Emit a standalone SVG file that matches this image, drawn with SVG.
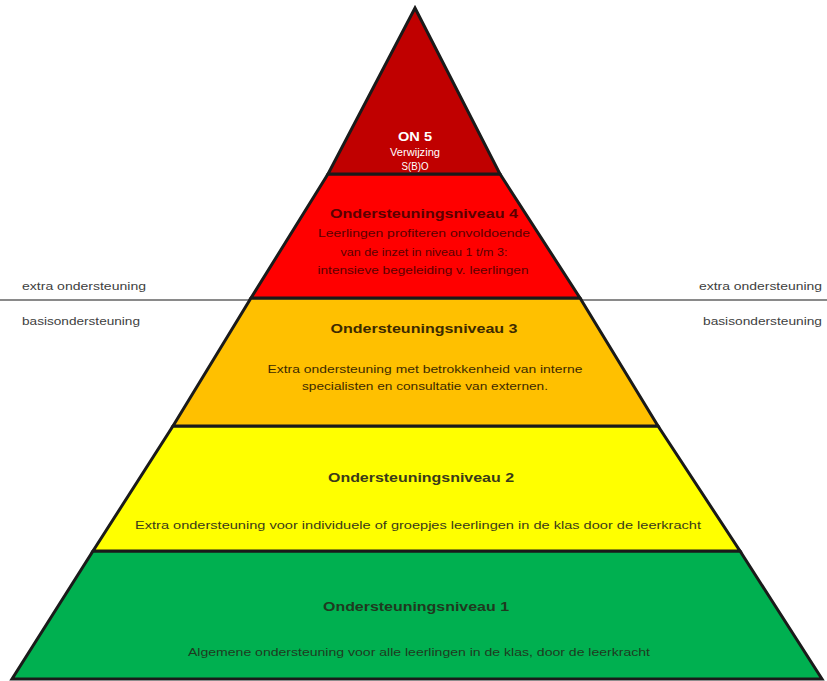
<svg xmlns="http://www.w3.org/2000/svg" width="827" height="681" viewBox="0 0 827 681">
<style>
.band{stroke:#1a1a1a;stroke-width:3;stroke-linejoin:miter}
.t{font-family:"Liberation Sans",Arial,sans-serif;text-anchor:middle}
.h{font-size:12.5px;font-weight:bold}
.b{font-size:10.5px}
.side{font-family:"Liberation Sans",Arial,sans-serif;font-size:10.5px;fill:#404040}
.sep{stroke:#8a8a8a;stroke-width:2}
</style>
<rect width="827" height="681" fill="#ffffff"/>
<g id="connectors">
<line class="sep" x1="0" y1="300" x2="252" y2="300"/>
<line class="sep" x1="580" y1="300" x2="827" y2="300"/>
</g>
<g id="side-labels">
<text class="side" x="22" y="290" textLength="124" lengthAdjust="spacingAndGlyphs">extra ondersteuning</text>
<text class="side" x="22" y="325" textLength="118" lengthAdjust="spacingAndGlyphs">basisondersteuning</text>
<text class="side" x="699" y="290" textLength="123" lengthAdjust="spacingAndGlyphs">extra ondersteuning</text>
<text class="side" x="703" y="325" textLength="119" lengthAdjust="spacingAndGlyphs">basisondersteuning</text>
</g>
<g id="level1">
<polygon class="band" fill="#00B050" points="93,551 740,551 822,679 12,679"/>
<text class="t h" x="416" y="611" fill="#1f3a1f" textLength="186" lengthAdjust="spacingAndGlyphs">Ondersteuningsniveau  1</text>
<text class="t b" x="419" y="656" fill="#1f3a1f" textLength="462" lengthAdjust="spacingAndGlyphs">Algemene ondersteuning voor alle leerlingen in de klas, door de leerkracht</text>
</g>
<g id="level2">
<polygon class="band" fill="#FFFF00" points="173,426 658,426 740,551 93,551"/>
<text class="t h" x="421" y="482" fill="#3a3a1a" textLength="186" lengthAdjust="spacingAndGlyphs">Ondersteuningsniveau  2</text>
<text class="t b" x="418" y="529" fill="#3a3a1a" textLength="566" lengthAdjust="spacingAndGlyphs">Extra ondersteuning voor individuele of groepjes leerlingen in de klas door de leerkracht</text>
</g>
<g id="level3">
<polygon class="band" fill="#FFC000" points="251,298 580,298 658,426 173,426"/>
<text class="t h" x="424" y="333" fill="#3d2a00" textLength="187" lengthAdjust="spacingAndGlyphs">Ondersteuningsniveau  3</text>
<text class="t b" x="425" y="373" fill="#3d2a00" textLength="315" lengthAdjust="spacingAndGlyphs">Extra ondersteuning met betrokkenheid van interne</text>
<text class="t b" x="425" y="390" fill="#3d2a00" textLength="246" lengthAdjust="spacingAndGlyphs">specialisten en consultatie van externen.</text>
</g>
<g id="level4">
<polygon class="band" fill="#FF0000" points="328,174 500,174 580,298 251,298"/>
<text class="t h" x="424" y="218" fill="#5a0000" textLength="188" lengthAdjust="spacingAndGlyphs">Ondersteuningsniveau  4</text>
<text class="t b" x="424" y="237" fill="#5a0000" textLength="212" lengthAdjust="spacingAndGlyphs">Leerlingen profiteren onvoldoende</text>
<text class="t b" x="424" y="256" fill="#5a0000" textLength="167" lengthAdjust="spacingAndGlyphs">van de inzet in niveau 1 t/m 3:</text>
<text class="t b" x="423" y="274" fill="#5a0000" textLength="211" lengthAdjust="spacingAndGlyphs">intensieve begeleiding v. leerlingen</text>
</g>
<g id="level5">
<polygon class="band" fill="#C00000" points="415,8 500,174 328,174"/>
<text class="t h" x="415" y="141" fill="#ffffff" textLength="34" lengthAdjust="spacingAndGlyphs">ON 5</text>
<text class="t b" x="415" y="156" fill="#ffffff" textLength="50" lengthAdjust="spacingAndGlyphs">Verwijzing</text>
<text class="t b" x="415" y="170" fill="#ffffff" textLength="27" lengthAdjust="spacingAndGlyphs">S(B)O</text>
</g>
</svg>
